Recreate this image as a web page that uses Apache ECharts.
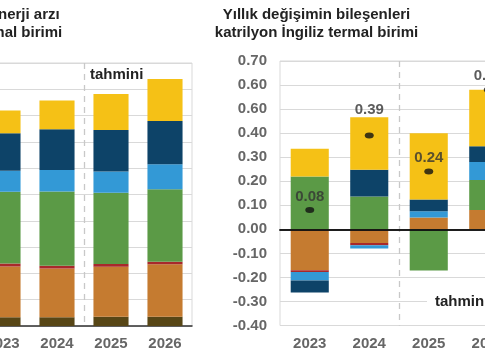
<!DOCTYPE html>
<html><head><meta charset="utf-8">
<script src="https://cdn.jsdelivr.net/npm/echarts@6/dist/echarts.min.js"></script>
<style>html,body{margin:0;padding:0;background:#fff}#c{width:485px;height:360px}</style>
</head><body><div id="c"></div>
<script>
// Categories
const years = ['2023', '2024', '2025', '2026'];

// Left panel: renewable energy supply (quadrillion Btu)
const supplyWaste   = [0.33, 0.33, 0.35, 0.35];
const supplyWood    = [1.93, 1.86, 1.90, 2.00];
const supplyGeo     = [0.12, 0.10, 0.11, 0.09];
const supplyBiofuel = [2.72, 2.82, 2.71, 2.76];
const supplyHydro   = [0.80, 0.82, 0.80, 0.95];
const supplyWind    = [1.43, 1.55, 1.58, 1.64];
const supplySolar   = [0.86, 1.09, 1.37, 1.60];

// Right panel: components of annual change
const changeWood    = [-0.170, -0.057, 0.049, 0.080];
const changeGeo     = [-0.008, -0.009, 0, 0];
const changeBiofuel = [0.220, 0.137, -0.171, 0.125];
const changeHydro   = [-0.035, -0.014, 0.026, 0.075];
const changeWind    = [-0.050, 0.111, 0.049, 0.065];
const changeSolar   = [0.115, 0.218, 0.276, 0.235];
const netChange     = [0.08, 0.39, 0.24, 0.58];
const netLabels     = ['0.08', '0.39', '0.24', '0.58'];

// Tick labels (as printed on the reference)
const changeTickValues = [-0.4, -0.3, -0.2, -0.1, 0, 0.1, 0.2, 0.3, 0.4, 0.5, 0.6, 0.7];
const changeTickLabels = ['-0.40', '-0.30', '-0.20', '-0.10', '0.00', '0.10', '0.20', '0.30', '0.40', '0.60', '0.60', '0.70'];

// Forecast starts after this many categories
const forecastStartIndex = 2;

const titleLeft = 'ABD yenilenebilir enerji arzı\nkatrilyon İngiliz termal birimi';
const titleRight = 'Yıllık değişimin bileşenleri\nkatrilyon İngiliz termal birimi';
const forecastText = 'tahmini';

const colors = {
  waste: '#574616', wood: '#c57b30', geo: '#a8292b', biofuel: '#5b9a46',
  hydro: '#3399d6', wind: '#0d4368', solar: '#f5c116'
};
const FONT = '"Liberation Sans", Arial, sans-serif';

const leftLayers = [
  ['Atık biyokütle', supplyWaste, colors.waste],
  ['Odun biyokütle', supplyWood, colors.wood],
  ['Jeotermal', supplyGeo, colors.geo],
  ['Biyoyakıtlar', supplyBiofuel, colors.biofuel],
  ['Hidroelektrik', supplyHydro, colors.hydro],
  ['Rüzgar', supplyWind, colors.wind],
  ['Güneş', supplySolar, colors.solar]
];
const rightLayers = [
  ['Odun biyokütle', changeWood, colors.wood],
  ['Jeotermal', changeGeo, colors.geo],
  ['Biyoyakıtlar', changeBiofuel, colors.biofuel],
  ['Hidroelektrik', changeHydro, colors.hydro],
  ['Rüzgar', changeWind, colors.wind],
  ['Güneş', changeSolar, colors.solar]
];

const tickLabelMap = {};
changeTickValues.forEach((v, i) => { tickLabelMap[Math.round(v * 100)] = changeTickLabels[i]; });

const labelStyle = { fontSize: 15, color: '#666', fontFamily: FONT, fontWeight: 'bold' };

// hidden value axis used only to draw the dashed forecast divider
function dividerAxis(gridIndex) {
  return {
    gridIndex, type: 'value', min: 0, max: years.length, interval: forecastStartIndex, position: 'top',
    axisLine: { show: false, onZero: false }, axisTick: { show: false }, axisLabel: { show: false },
    splitLine: { show: true, showMinLine: false, showMaxLine: false,
      lineStyle: { type: [6, 5], color: '#c8c8c8', width: 1.3 } }
  };
}

const series = [];
leftLayers.forEach(([name, data, color]) => {
  series.push({ name, type: 'bar', stack: 'supply', xAxisIndex: 0, yAxisIndex: 0, data,
    barWidth: '65%', itemStyle: { color }, emphasis: { disabled: true } });
});
rightLayers.forEach(([name, data, color]) => {
  series.push({ name, type: 'bar', stack: 'change', xAxisIndex: 1, yAxisIndex: 1, data,
    barWidth: '64%', itemStyle: { color }, emphasis: { disabled: true } });
});
series.push({
  name: 'Net', type: 'scatter', xAxisIndex: 1, yAxisIndex: 1, z: 5,
  symbol: 'circle', symbolSize: [9, 6], itemStyle: { color: '#111' },
  data: netChange.map((v, i) => i === 1 ? { value: v, label: { offset: [0, -12] } } : v),
  label: { show: true, position: 'top', distance: 3, fontSize: 15, fontWeight: 'bold',
    color: '#333', fontFamily: FONT, formatter: (p) => netLabels[p.dataIndex] }
});

const option = {
  animation: false,
  backgroundColor: '#fff',
  grid: [
    { left: -24, width: 216, top: 63, height: 263, show: true, borderColor: '#d9d9d9', borderWidth: 1, outerBoundsMode: 'none', containLabel: false },
    { left: 280, width: 238, top: 61, height: 264.5, show: true, borderColor: '#d9d9d9', borderWidth: 1, outerBoundsMode: 'none', containLabel: false }
  ],
  xAxis: [
    { gridIndex: 0, type: 'category', data: years, position: 'bottom',
      axisLine: { lineStyle: { color: '#333', width: 1.5 } },
      axisTick: { length: 5, lineStyle: { color: '#333', width: 1.5 } },
      axisLabel: Object.assign({ margin: 10 }, labelStyle), splitLine: { show: false } },
    { gridIndex: 1, type: 'category', data: years, position: 'bottom',
      axisLine: { show: false, onZero: false }, axisTick: { show: false },
      axisLabel: Object.assign({ margin: 11 }, labelStyle), splitLine: { show: false } },
    { gridIndex: 1, type: 'category', data: years, position: 'bottom', z: 4,
      axisLine: { onZero: true, onZeroAxisIndex: 1, lineStyle: { color: '#111', width: 1.5 } },
      axisTick: { length: 5, lineStyle: { color: '#111', width: 1.5 } },
      axisLabel: { show: false }, splitLine: { show: false } },
    { gridIndex: 1, type: 'category', data: years, position: 'top', z: 4,
      axisLine: { onZero: true, onZeroAxisIndex: 2, lineStyle: { color: '#111', width: 1.5 } },
      axisTick: { length: 5, lineStyle: { color: '#111', width: 1.5 } },
      axisLabel: { show: false }, splitLine: { show: false } },
    dividerAxis(0),
    dividerAxis(1)
  ],
  yAxis: [
    { gridIndex: 0, type: 'value', min: 0, max: 10, interval: 1,
      axisLabel: { show: false }, axisLine: { show: false }, axisTick: { show: false },
      splitLine: { lineStyle: { color: '#d9d9d9' } } },
    { gridIndex: 1, type: 'value', min: -0.4, max: 0.7, interval: 0.1,
      axisLine: { show: false }, axisTick: { show: false },
      axisLabel: Object.assign({ margin: 13, formatter: (v) => tickLabelMap[Math.round(v * 100)] }, labelStyle),
      splitLine: { lineStyle: { color: '#d9d9d9' } } },
    { gridIndex: 1, type: 'value', min: -0.4, max: 0.7, interval: 0.1, position: 'left',
      axisLine: { show: false, onZero: false }, axisTick: { show: false },
      axisLabel: { show: false }, splitLine: { show: false } }
  ],
  graphic: [
    { type: 'text', x: -39.5, y: 24, z: 100,
      style: { text: titleLeft, font: 'bold 15px ' + FONT, fill: '#222', align: 'center', verticalAlign: 'middle', lineHeight: 18 } },
    { type: 'text', x: 316.5, y: 24, z: 100,
      style: { text: titleRight, font: 'bold 15px ' + FONT, fill: '#222', align: 'center', verticalAlign: 'middle', lineHeight: 18 } },
    { type: 'text', x: 90, y: 75, z: 100,
      style: { text: forecastText, font: 'bold 15px ' + FONT, fill: '#222', align: 'left', verticalAlign: 'middle' } },
    { type: 'text', x: 427, y: 302, z: 100,
      style: { text: forecastText, font: 'bold 15px ' + FONT, fill: '#222', align: 'left', verticalAlign: 'middle',
        backgroundColor: '#fff', padding: [3, 0, 3, 8] } }
  ],
  series
};

const chart = echarts.init(document.getElementById('c'), null, { renderer: 'canvas' });
chart.setOption(option);
</script>
</body></html>
